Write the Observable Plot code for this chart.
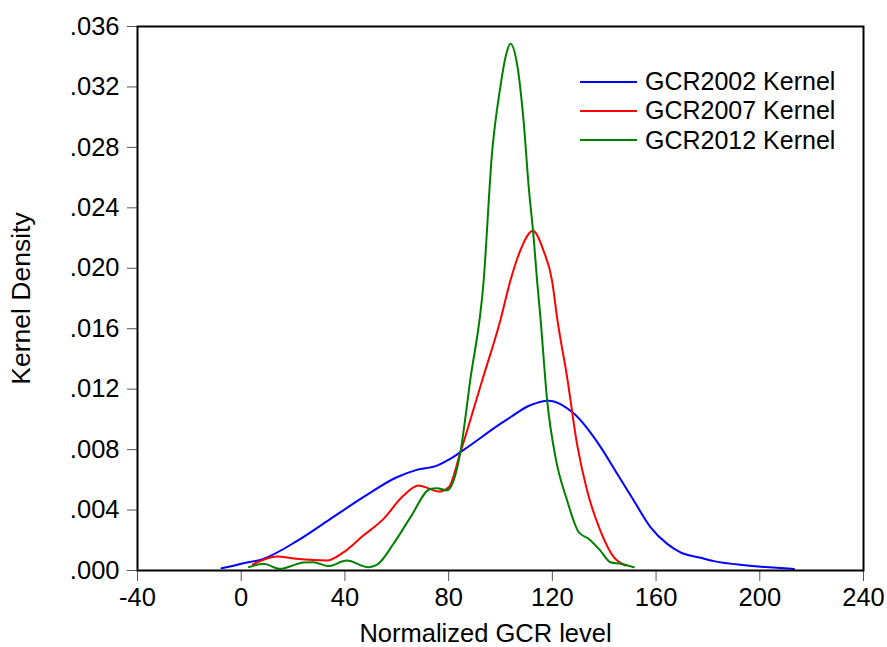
<!DOCTYPE html>
<html>
<head>
<meta charset="utf-8">
<script src="https://cdn.jsdelivr.net/npm/d3@7"></script>
<script src="https://cdn.jsdelivr.net/npm/@observablehq/plot@0.6"></script>
<style>
  html, body { margin: 0; padding: 0; background: #fff; }
  #wrap { position: relative; width: 887px; height: 647px; font-family: "Liberation Sans", Arial, sans-serif; }
  #legend { position: absolute; left: 580px; top: 67px; font-size: 25px; line-height: 29.3px; color: #000; }
  #legend .item { display: flex; align-items: center; white-space: nowrap; }
  #legend .swatch { width: 57px; height: 2px; margin-right: 8px; }
</style>
</head>
<body>
<div id="wrap"><div id="legend"></div></div>
<script>
const seriesNames = ["GCR2002 Kernel", "GCR2007 Kernel", "GCR2012 Kernel"];
const seriesColors = ["#0000ff", "#ff0000", "#008000"];

const xTicks = [-40, 0, 40, 80, 120, 160, 200, 240];
const yTicks = [0, 0.004, 0.008, 0.012, 0.016, 0.020, 0.024, 0.028, 0.032, 0.036];

const gcr2002X = [-7.6, -4.4, 0, 8.5, 21.4, 34.3, 47.1, 60, 67.7, 75.5, 80.6, 85.8, 99.9, 103.8, 111, 118.6, 128.2, 138.5, 145, 151.4, 157.9, 164.3, 169.4, 177.2, 182.3, 195.2, 213.2];
const gcr2002Y = [0.00015, 0.00026, 0.00045, 0.00077, 0.00194, 0.0034, 0.00485, 0.00617, 0.00666, 0.00694, 0.00738, 0.00798, 0.0097, 0.01014, 0.0109, 0.01124, 0.0104, 0.0082, 0.0064, 0.00463, 0.00286, 0.00176, 0.0012, 0.00084, 0.00062, 0.00033, 0.0001];

const gcr2007X = [4.5, 13.7, 21.4, 33, 39.4, 47.1, 54.8, 62.6, 68.4, 72, 76.1, 80, 84.5, 92.9, 99.9, 103.8, 107.6, 112.5, 116.6, 119.9, 121.8, 125.7, 129.5, 133.4, 138.5, 143.7, 148.2];
const gcr2007Y = [0.0004, 0.00093, 0.00077, 0.00066, 0.0012, 0.00231, 0.0034, 0.00496, 0.00562, 0.00545, 0.00522, 0.0055, 0.0078, 0.01256, 0.01653, 0.01917, 0.02116, 0.02248, 0.02116, 0.01917, 0.01675, 0.01278, 0.00838, 0.00529, 0.00264, 0.00088, 0.00033];

const gcr2012X = [3, 8.5, 15, 24, 27.8, 33.6, 40.7, 49, 52.3, 58.7, 65.2, 72.9, 75.5, 79.3, 81.9, 84.5, 88.3, 93.5, 96.7, 99.9, 102.2, 103.8, 106.4, 108.9, 110.9, 112.8, 114.1, 115.4, 118, 121.2, 125.7, 130.2, 134, 138.5, 142.4, 146.3, 151.4];
const gcr2012Y = [0.00022, 0.00044, 0.00011, 0.00053, 0.00055, 0.00029, 0.00066, 0.00022, 0.00037, 0.00176, 0.0035, 0.0054, 0.00545, 0.0053, 0.00595, 0.0078, 0.01256, 0.01917, 0.02755, 0.03196, 0.03416, 0.03486, 0.0335, 0.02975, 0.02534, 0.022, 0.0192, 0.01675, 0.01124, 0.0075, 0.00463, 0.00253, 0.0021, 0.00132, 0.00055, 0.00044, 0.00022];

const seriesX = [gcr2002X, gcr2007X, gcr2012X];
const seriesY = [gcr2002Y, gcr2007Y, gcr2012Y];
const rows = [];
seriesNames.forEach((name, i) => {
  seriesX[i].forEach((x, j) => rows.push({series: name, x, y: seriesY[i][j]}));
});

const fmtY = d => d3.format(".3f")(d).replace(/^0/, "");
const fmtX = d => String(d);

const chart = Plot.plot({
  width: 887,
  height: 647,
  marginLeft: 137,
  marginRight: 24,
  marginTop: 26,
  marginBottom: 77,
  style: {fontFamily: "'Liberation Sans', Arial, sans-serif", fontSize: "25.5px", color: "#000", background: "#fff"},
  x: {domain: [-40, 240]},
  y: {domain: [0, 0.036]},
  color: {domain: seriesNames, range: seriesColors},
  marks: [
    Plot.axisX({ticks: xTicks, tickFormat: fmtX, tickSize: 11, tickPadding: 6, stroke: "#555", fontSize: 25.5,
      label: "Normalized GCR level", labelAnchor: "center", labelArrow: "none", labelOffset: 71}),
    Plot.axisY({ticks: yTicks, tickFormat: fmtY, tickSize: 10, tickPadding: 8, stroke: "#555", fontSize: 25.5,
      label: null}),
    Plot.axisY({ticks: [], tickSize: 0, label: "Kernel Density", labelAnchor: "center", labelArrow: "none",
      labelOffset: 126, fontSize: 26.5}),
    Plot.line(rows, {x: "x", y: "y", z: "series", stroke: "series", strokeWidth: 2, curve: "monotone-x"}),
    Plot.frame({stroke: "#000", strokeWidth: 2})
  ]
});
const wrap = document.getElementById("wrap");
wrap.insertBefore(chart, wrap.firstChild);
d3.select(chart).selectAll('g[aria-label="x-axis label"]').each(function() {
  const t = this.getAttribute("transform") || "";
  this.setAttribute("transform", t + " translate(-15,0)");
});

const legend = d3.select("#legend");
seriesNames.forEach((name, i) => {
  const item = legend.append("div").attr("class", "item");
  item.append("div").attr("class", "swatch").style("background", seriesColors[i]);
  item.append("span").text(name);
});
</script>
</body>
</html>
